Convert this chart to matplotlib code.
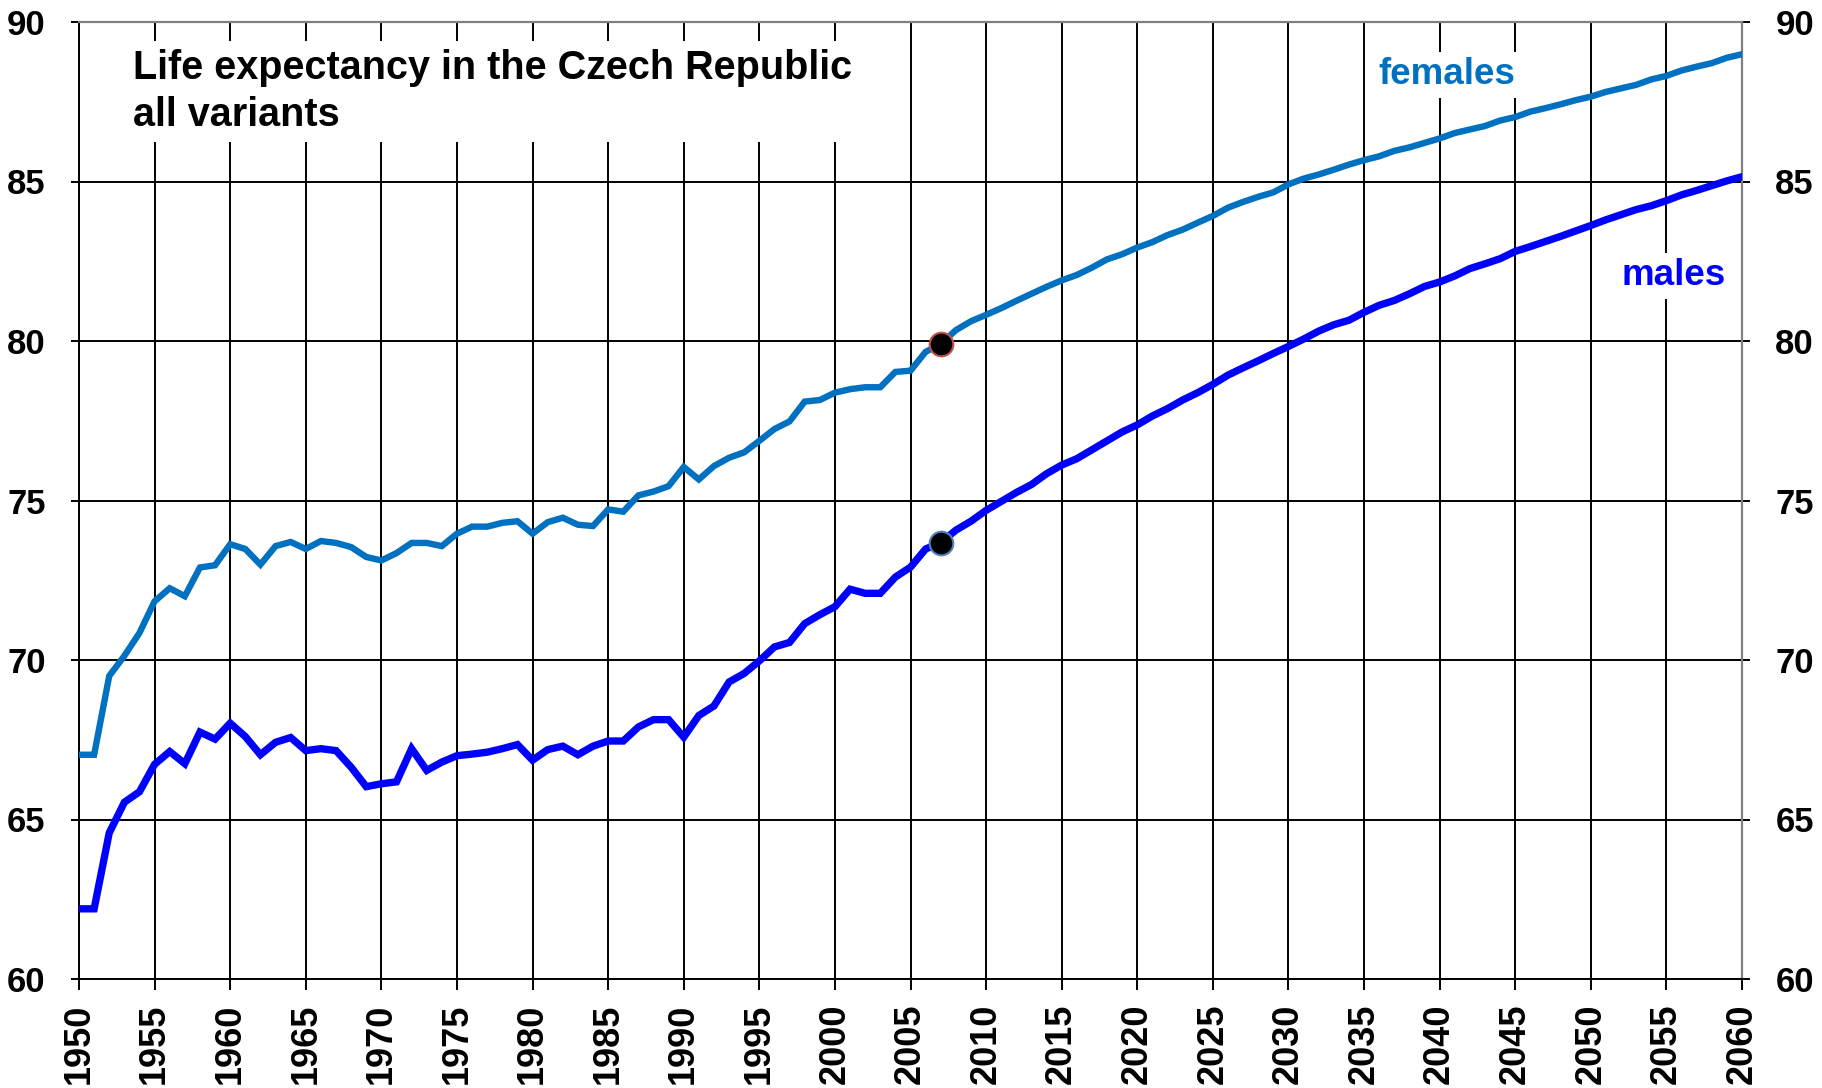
import matplotlib
matplotlib.use("Agg")
import matplotlib.pyplot as plt

plt.rcParams['font.family'] = ['Liberation Sans', 'DejaVu Sans']
plt.rcParams['font.weight'] = 'bold'

years = list(range(1950, 2061))

females = [
    # 1950-1959
    67.03, 67.03, 69.50, 70.13, 70.85, 71.84, 72.25, 72.00, 72.90, 72.97,
    # 1960-1969
    73.63, 73.48, 72.99, 73.57, 73.70, 73.48, 73.73, 73.67, 73.54, 73.23,
    # 1970-1979
    73.12, 73.35, 73.67, 73.67, 73.57, 73.96, 74.18, 74.18, 74.30, 74.35,
    # 1980-1989
    73.96, 74.32, 74.46, 74.24, 74.20, 74.72, 74.65, 75.16, 75.28, 75.45,
    # 1990-1999
    76.05, 75.66, 76.08, 76.34, 76.51, 76.87, 77.24, 77.48, 78.10, 78.15,
    # 2000-2009
    78.38, 78.49, 78.55, 78.55, 79.03, 79.07, 79.66, 79.91, 80.34, 80.62,
    # 2010-2019
    80.82, 81.03, 81.26, 81.48, 81.70, 81.90, 82.07, 82.30, 82.56, 82.72,
    # 2020-2029
    82.93, 83.10, 83.32, 83.49, 83.71, 83.92, 84.18, 84.36, 84.52, 84.66,
    # 2030-2039
    84.91, 85.09, 85.22, 85.37, 85.53, 85.67, 85.79, 85.96, 86.07, 86.21,
    # 2040-2049
    86.35, 86.52, 86.63, 86.74, 86.91, 87.02, 87.19, 87.30, 87.42, 87.55,
    # 2050-2060
    87.66, 87.81, 87.92, 88.03, 88.20, 88.31, 88.48, 88.60, 88.71, 88.88, 88.99,
]

males = [
    # 1950-1959
    62.20, 62.20, 64.58, 65.54, 65.87, 66.73, 67.13, 66.75, 67.74, 67.52,
    # 1960-1969
    68.02, 67.60, 67.03, 67.42, 67.57, 67.16, 67.22, 67.16, 66.64, 66.03,
    # 1970-1979
    66.12, 66.18, 67.22, 66.54, 66.80, 67.00, 67.05, 67.11, 67.22, 67.35,
    # 1980-1989
    66.86, 67.19, 67.30, 67.03, 67.30, 67.46, 67.46, 67.90, 68.13, 68.13,
    # 1990-1999
    67.58, 68.26, 68.56, 69.31, 69.58, 69.97, 70.41, 70.55, 71.14, 71.42,
    # 2000-2009
    71.67, 72.22, 72.09, 72.09, 72.60, 72.91, 73.48, 73.68, 74.07, 74.35,
    # 2010-2019
    74.69, 74.97, 75.25, 75.50, 75.84, 76.11, 76.31, 76.59, 76.87, 77.15,
    # 2020-2029
    77.37, 77.65, 77.88, 78.15, 78.38, 78.64, 78.93, 79.16, 79.38, 79.61,
    # 2030-2039
    79.83, 80.06, 80.31, 80.51, 80.65, 80.90, 81.12, 81.27, 81.48, 81.71,
    # 2040-2049
    81.85, 82.04, 82.27, 82.42, 82.58, 82.81, 82.96, 83.12, 83.28, 83.45,
    # 2050-2060
    83.62, 83.80, 83.96, 84.12, 84.24, 84.40, 84.58, 84.72, 84.87, 85.02, 85.15,
]

marker_year = 2007
x_ticks = list(range(1950, 2061, 5))
y_ticks = [60, 65, 70, 75, 80, 85, 90]

title_text = "Life expectancy in the Czech Republic\nall variants"
label_f = "females"
label_m = "males"

col_f = '#0070C0'
col_m = '#0000FF'

fig = plt.figure(figsize=(18.22, 10.88), dpi=100)
ax = fig.add_axes([79 / 1822, 1 - 979 / 1088, (1742 - 79) / 1822, (979 - 22) / 1088])

ax.set_xlim(1950, 2060)
ax.set_ylim(60, 90)
ax.set_xticks(x_ticks)
ax.set_yticks(y_ticks)
ax.set_xticklabels([str(v) for v in x_ticks], rotation=90, fontsize=26, fontweight='bold')
ax.set_yticklabels([str(v) for v in y_ticks], fontsize=25, fontweight='bold')

ax.grid(True, color='black', linewidth=1.4, zorder=1)
ax.set_axisbelow(True)

ax.tick_params(axis='y', which='both', left=True, right=True, labelleft=True, labelright=True,
               direction='out', length=6, width=1.4, pad=18, colors='black')
ax.tick_params(axis='x', direction='out', length=8, width=1.4, pad=10)

for side in ['left', 'bottom']:
    ax.spines[side].set_color('black')
    ax.spines[side].set_linewidth(1.4)
for side in ['top', 'right']:
    ax.spines[side].set_color('#808080')
    ax.spines[side].set_linewidth(1.6)

# right-side ticks gray
for t in ax.yaxis.get_major_ticks():
    t.tick2line.set_color('#808080')

ax.plot(years, females, color=col_f, linewidth=4.6, zorder=3, solid_joinstyle='miter')
ax.plot(years, males, color=col_m, linewidth=5.3, zorder=3, solid_joinstyle='miter')

idx = years.index(marker_year)
ax.plot([marker_year], [females[idx]], marker='o', markersize=17, markerfacecolor='black',
        markeredgecolor='#C0504D', markeredgewidth=1.5, zorder=4, linestyle='none')
ax.plot([marker_year], [males[idx]], marker='o', markersize=17, markerfacecolor='black',
        markeredgecolor='#4F81BD', markeredgewidth=1.5, zorder=4, linestyle='none')

ax.text(1953.6, 89.15, title_text, fontsize=28.5, fontweight='bold', color='black',
        ha='left', va='top', linespacing=1.28, zorder=5,
        bbox=dict(facecolor='white', edgecolor='none', pad=6))

ax.text(2040.5, 88.35, label_f, fontsize=26.5, fontweight='bold', color=col_f,
        ha='center', va='center', zorder=5,
        bbox=dict(facecolor='white', edgecolor='none', pad=4))
ax.text(2055.5, 82.05, label_m, fontsize=26.5, fontweight='bold', color=col_m,
        ha='center', va='center', zorder=5,
        bbox=dict(facecolor='white', edgecolor='none', pad=4))

fig.savefig('out.png', dpi=100, facecolor='white')
